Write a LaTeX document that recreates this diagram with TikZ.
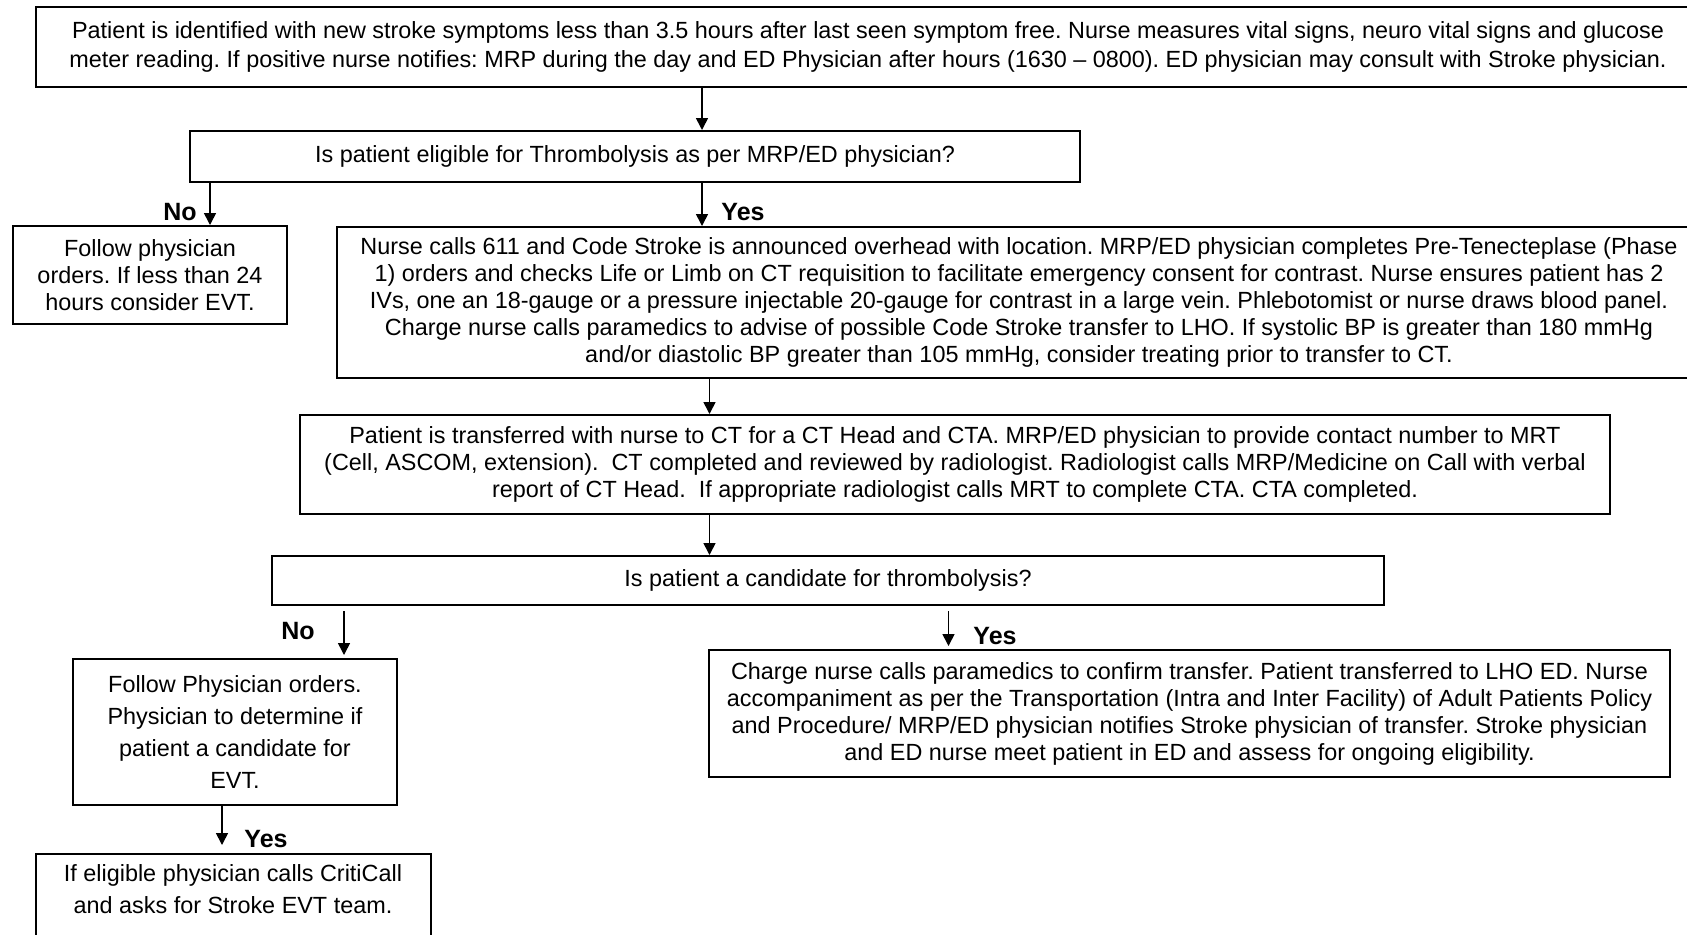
\documentclass[tikz,border=0pt]{standalone}
\usepackage{fontspec}
\setmainfont{Liberation Sans}
\usetikzlibrary{positioning,arrows.meta}
\frenchspacing
\tikzset{%
  flowbox/.style = {
    draw, line width=1pt, align=center, inner sep=0pt,
    font=\fontsize{11.7pt}{13.5pt}\selectfont
  },
  answer/.style = {
    font=\fontsize{12.5pt}{14pt}\selectfont\bfseries, inner sep=0pt
  },
  flowarrow/.style = {
    line width=0.8pt, -{Triangle[length=6pt,width=6pt]}
  }
}

\begin{document}
\begin{tikzpicture}[x=0.5pt,y=-0.5pt]
\useasboundingbox (0,0) rectangle (1687,934);
% boxes
\node[flowbox,minimum width=832pt,minimum height=40pt,
  font=\fontsize{11.7pt}{14.5pt}\selectfont] (start) at (868,47)
  {Patient is identified with new stroke symptoms less than 3.5 hours after last seen symptom free. Nurse measures vital signs, neuro vital signs and glucose\\
   meter reading. If positive nurse notifies: MRP during the day and ED Physician after hours (1630 -- 0800). ED physician may consult with Stroke physician.};
\node[flowbox,minimum width=445pt,minimum height=25.5pt] (elig) at (635,156.5)
  {Is patient eligible for Thrombolysis as per MRP/ED physician?};
\node[flowbox,minimum width=137pt,minimum height=49pt] (follow) at (150,275)
  {Follow physician\\ orders. If less than 24\\ hours consider EVT.};
\node[flowbox,minimum width=682pt,minimum height=75.5pt] (nurse) at (1019,302.5)
  {Nurse calls 611 and Code Stroke is announced overhead with location. MRP/ED physician completes Pre-Tenecteplase (Phase\\
   1) orders and checks Life or Limb on CT requisition to facilitate emergency consent for contrast. Nurse ensures patient has 2\\
   IVs, one an 18-gauge or a pressure injectable 20-gauge for contrast in a large vein. Phlebotomist or nurse draws blood panel.\\
   Charge nurse calls paramedics to advise of possible Code Stroke transfer to LHO. If systolic BP is greater than 180 mmHg\\
   and/or diastolic BP greater than 105 mmHg, consider treating prior to transfer to CT.};
\node[flowbox,minimum width=655pt,minimum height=49.5pt] (ct) at (955,464.5)
  {Patient is transferred with nurse to CT for a CT Head and CTA. MRP/ED physician to provide contact number to MRT\\
   (Cell, ASCOM, extension).\ \ CT completed and reviewed by radiologist. Radiologist calls MRP/Medicine on Call with verbal\\
   report of CT Head.\ \ If appropriate radiologist calls MRT to complete CTA. CTA completed.};
\node[flowbox,minimum width=556pt,minimum height=24.5pt] (cand) at (828,580.5)
  {Is patient a candidate for thrombolysis?};
\node[flowbox,minimum width=162pt,minimum height=73pt,
  font=\fontsize{11.7pt}{16pt}\selectfont] (followevt) at (235,732)
  {Follow Physician orders.\\ Physician to determine if\\ patient a candidate for\\ EVT.};
\node[flowbox,minimum width=480.5pt,minimum height=63.5pt] (transfer) at (1189.5,713.5)
  {Charge nurse calls paramedics to confirm transfer. Patient transferred to LHO ED. Nurse\\
   accompaniment as per the Transportation (Intra and Inter Facility) of Adult Patients Policy\\
   and Procedure/ MRP/ED physician notifies Stroke physician of transfer. Stroke physician\\
   and ED nurse meet patient in ED and assess for ongoing eligibility.};
\node[flowbox,minimum width=197.5pt,anchor=north,inner ysep=5.5pt,text depth=40pt,
  font=\fontsize{11.7pt}{16pt}\selectfont] (criticall) at (233,853)
  {If eligible physician calls CritiCall\\ and asks for Stroke EVT team.};
% answers
\node[answer] (no1) at (180,212) {No};
\node[answer] (yes1) at (743,212) {Yes};
\node[answer] (no2) at (298,631) {No};
\node[answer] (yes2) at (995,636) {Yes};
\node[answer] (yes3) at (266,839) {Yes};
% arrow columns
\coordinate (c0) at (210,0);
\coordinate (c1) at (702,0);
\coordinate (c2) at (709.5,0);
\coordinate (c3) at (344,0);
\coordinate (c4) at (948.5,0);
\coordinate (c5) at (222,0);
\draw[flowarrow] (c1 |- start.south) -- (c1 |- elig.north);
\draw[flowarrow] (c0 |- elig.south) -- (c0 |- follow.north);
\draw[flowarrow] (c1 |- elig.south) -- (c1 |- nurse.north);
\draw[flowarrow] (c2 |- nurse.south) -- (c2 |- ct.north);
\draw[flowarrow] (c2 |- ct.south) -- (c2 |- cand.north);
\draw[flowarrow,shorten <=2.5pt,shorten >=1.5pt] (c3 |- cand.south) -- (c3 |- followevt.north);
\draw[flowarrow,shorten <=2.5pt,shorten >=1.5pt] (c4 |- cand.south) -- (c4 |- transfer.north);
\draw[flowarrow,shorten >=4pt] (c5 |- followevt.south) -- (c5 |- criticall.north);
\end{tikzpicture}
\end{document}
